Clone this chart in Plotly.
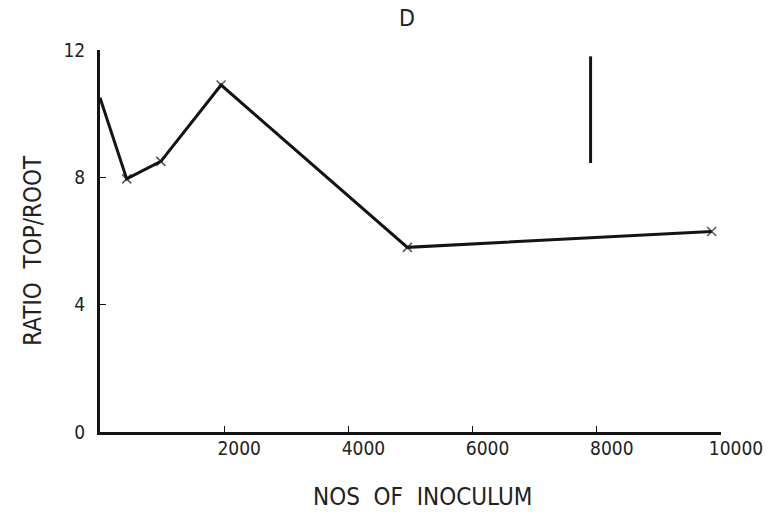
import plotly.graph_objects as go

# Top/root ratio against inoculum numbers
inoculum = [0, 430, 980, 1950, 4950, 9850]
ratio = [10.5, 7.95, 8.5, 10.9, 5.8, 6.3]

# Least-significant-difference bar
lsd_x = [7900, 7900]
lsd_y = [8.45, 11.8]

x_ticks = [2000, 4000, 6000, 8000, 10000]
y_ticks = [0, 4, 8, 12]

ink = "#141414"
font_family = "DejaVu Sans Condensed, sans-serif"

# the first reading sits on the y axis itself, so it gets no cross
marker_sizes = [0] + [9] * (len(inoculum) - 1)

fig = go.Figure()
fig.add_trace(go.Scatter(
    x=inoculum, y=ratio, mode="lines+markers",
    line=dict(color=ink, width=3),
    marker=dict(symbol="x-thin", size=marker_sizes, line=dict(color=ink, width=1.6)),
    showlegend=False, hoverinfo="skip", cliponaxis=False,
))
fig.add_trace(go.Scatter(
    x=lsd_x, y=lsd_y, mode="lines",
    line=dict(color=ink, width=3),
    showlegend=False, hoverinfo="skip",
))

fig.update_layout(
    width=775, height=514,
    margin=dict(l=100, r=49, t=50, b=82),
    paper_bgcolor="white", plot_bgcolor="white",
    font=dict(family=font_family, color="#222", size=19),
    title=dict(text="D", xref="container", x=0.525, xanchor="center",
               yref="container", y=0.965, yanchor="middle",
               font=dict(family=font_family, size=23, color="#222")),
    annotations=[
        dict(text="RATIO  TOP/ROOT", xref="paper", yref="paper",
             x=-0.107, y=0.476, textangle=-90, showarrow=False,
             xanchor="center", yanchor="middle",
             font=dict(family=font_family, size=24, color="#222")),
        dict(text="NOS  OF  INOCULUM", xref="paper", yref="paper",
             x=0.52, y=-0.17, showarrow=False,
             xanchor="center", yanchor="middle",
             font=dict(family=font_family, size=24, color="#222")),
    ],
)

fig.update_xaxes(
    range=[0, 10000], tickvals=x_ticks, ticktext=[str(v) for v in x_ticks],
    showline=True, linecolor=ink, linewidth=3, showgrid=False, zeroline=False,
    ticks="inside", ticklen=6, tickwidth=1.2, tickcolor=ink,
    ticklabelshift=15, ticklabelstandoff=-3,
    tickfont=dict(size=19),
)
fig.update_yaxes(
    range=[0, 12], tickvals=y_ticks, ticktext=[str(v) for v in y_ticks],
    showline=True, linecolor=ink, linewidth=3, showgrid=False, zeroline=False,
    ticks="inside", ticklen=6, tickwidth=1.2, tickcolor=ink,
    ticklabelstandoff=8, tickfont=dict(size=19),
)

fig.write_html("out.html")
